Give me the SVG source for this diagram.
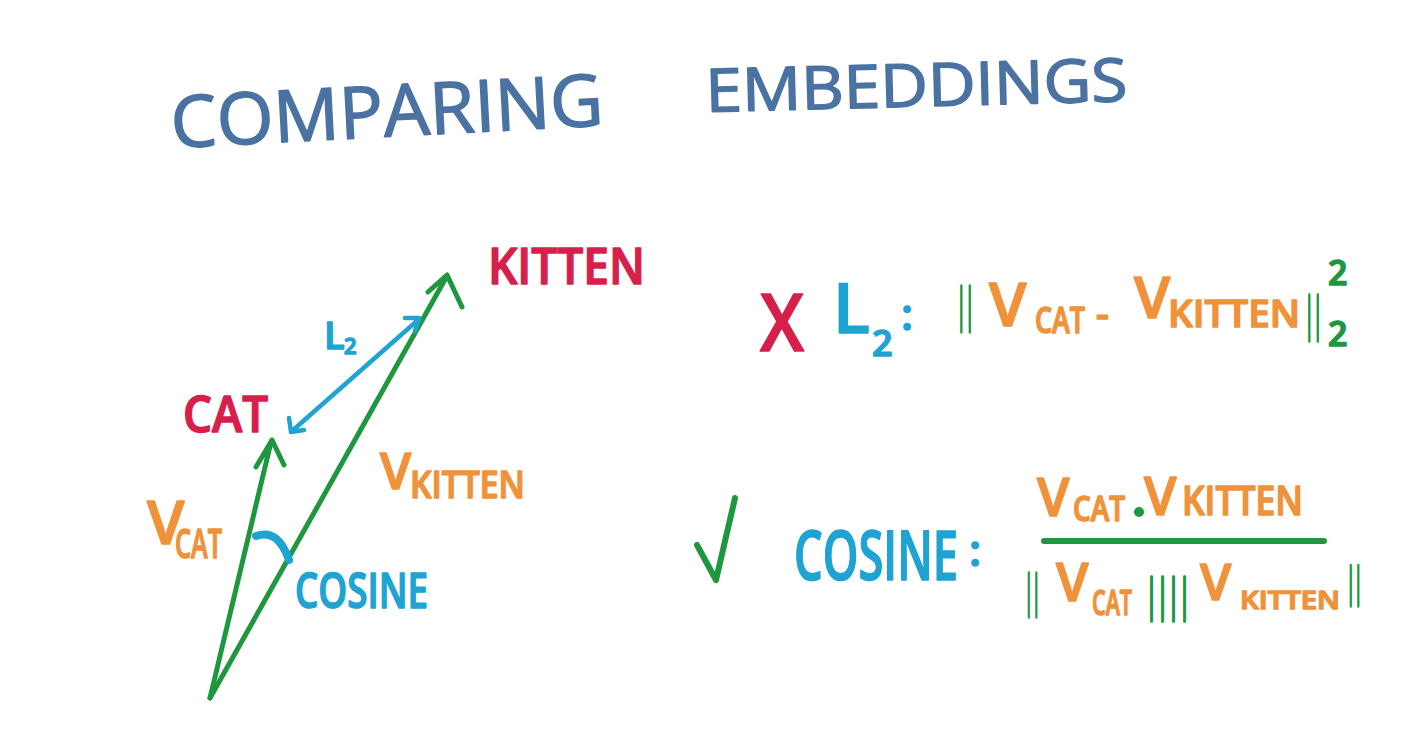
<svg xmlns="http://www.w3.org/2000/svg" width="1414" height="744" viewBox="0 0 1414 744">
<style>
text{font-family:"Open Sans","Liberation Sans",sans-serif;stroke-linejoin:round;stroke-linecap:round}
.title{fill:#4a72a2;stroke:#4a72a2;stroke-width:1.5}
.red{fill:#d71f4b;stroke:#d71f4b;stroke-width:1.5;font-weight:600}
.org{fill:#f0923a;stroke:#f0923a;stroke-width:1.5;font-weight:600}
.blu{fill:#1ea3d3;stroke:#1ea3d3;stroke-width:1.5;font-weight:600}
.grn{fill:#1f973f;stroke:#1f973f;stroke-width:1.5;font-weight:600}
.bar{fill:#1f973f;stroke:#1f973f;stroke-width:3.5;font-weight:400}
.gl{fill:none;stroke:#1f973f;stroke-width:5;stroke-linecap:round;stroke-linejoin:round}
.bl{fill:none;stroke:#1ea3d3;stroke-width:4.5;stroke-linecap:round;stroke-linejoin:round}
</style>
<rect width="1414" height="744" fill="#ffffff"/>
<g id="title">
<text class="title" x="172" y="148" font-size="72" textLength="433" lengthAdjust="spacingAndGlyphs" transform="rotate(-3 172 148)">COMPARING</text>
<text class="title" x="706" y="112" font-size="60" textLength="422" lengthAdjust="spacingAndGlyphs" transform="rotate(-1.5 706 112)">EMBEDDINGS</text>
</g>
<g id="connectors">
<path class="gl" d="M210 698 L447 276 M428 292 L447 275 L462 307"/>
<path class="gl" d="M210 698 L271 442 M256 467 L272 440 L284 465"/>
<path class="bl" d="M292 431 L418 320 M289 418 L291 432 L304 430 M405 318 L419 318 L415 331"/>
<path d="M256 536 Q278 528 289 560" fill="none" stroke="#1ea3d3" stroke-width="8" stroke-linecap="round"/>
</g>
<g id="kitten"><text class="red" x="488" y="284" font-size="50" textLength="157" lengthAdjust="spacingAndGlyphs">KITTEN</text></g>
<g id="cat"><text class="red" x="183" y="432" font-size="50" textLength="85" lengthAdjust="spacingAndGlyphs">CAT</text></g>
<g id="l2label"><text class="blu" x="324" y="349" font-size="38" font-weight="400">L</text><text class="blu" x="344" y="354" font-size="22">2</text></g>
<g id="vcat"><text class="org" x="147" y="544" font-size="60" font-weight="400">V</text><text class="org" x="175" y="558" font-size="40" textLength="47" lengthAdjust="spacingAndGlyphs">CAT</text></g>
<g id="vkitten"><text class="org" x="380" y="489" font-size="50" font-weight="400">V</text><text class="org" x="410" y="498" font-size="38" textLength="115" lengthAdjust="spacingAndGlyphs">KITTEN</text></g>
<g id="cosine"><text class="blu" x="295" y="608" font-size="48" textLength="133" lengthAdjust="spacingAndGlyphs">COSINE</text></g>
<g id="l2formula">
<text class="red" x="760" y="351" font-size="80" font-weight="400" textLength="44" lengthAdjust="spacingAndGlyphs">X</text>
<text class="blu" x="833" y="333" font-size="68" font-weight="400">L</text>
<text class="blu" x="872" y="356" font-size="36">2</text>
<text class="blu" x="901" y="330" font-size="44">:</text>
<text class="bar" x="957" y="321" font-size="46" textLength="17" lengthAdjust="spacingAndGlyphs">||</text>
<text class="org" x="989" y="326" font-size="60" font-weight="400">V</text>
<text class="org" x="1035" y="333" font-size="36" textLength="50" lengthAdjust="spacingAndGlyphs">CAT</text>
<text class="org" x="1096" y="328" font-size="40">-</text>
<text class="org" x="1134" y="318" font-size="58" font-weight="400">V</text>
<text class="org" x="1168" y="327" font-size="38" textLength="132" lengthAdjust="spacingAndGlyphs">KITTEN</text>
<text class="bar" x="1305" y="330" font-size="46" textLength="17" lengthAdjust="spacingAndGlyphs">||</text>
<text class="grn" x="1328" y="285" font-size="34">2</text>
<text class="grn" x="1328" y="346" font-size="34">2</text>
</g>
<g id="cosformula">
<path class="gl" d="M697 545 L716 580 L735 498" style="stroke-width:6"/>
<text class="blu" x="794" y="580" font-size="68" font-weight="400" textLength="164" lengthAdjust="spacingAndGlyphs">COSINE</text>
<text class="blu" x="969" y="566" font-size="44">:</text>
<text class="org" x="1037" y="516" font-size="52" font-weight="400">V</text>
<text class="org" x="1073" y="521" font-size="34" textLength="52" lengthAdjust="spacingAndGlyphs">CAT</text>
<circle cx="1139" cy="512" r="5" fill="#1f973f"/>
<text class="org" x="1144" y="515" font-size="52" font-weight="400">V</text>
<text class="org" x="1182" y="515" font-size="40" textLength="121" lengthAdjust="spacingAndGlyphs">KITTEN</text>
<path d="M1044 541 L1324 541" fill="none" stroke="#1f973f" stroke-width="6" stroke-linecap="round"/>
<text class="bar" x="1025" y="606" font-size="44" textLength="15" lengthAdjust="spacingAndGlyphs">||</text>
<text class="org" x="1056" y="601" font-size="52" font-weight="400">V</text>
<text class="org" x="1092" y="615" font-size="34" textLength="40" lengthAdjust="spacingAndGlyphs">CAT</text>
<text class="bar" x="1146" y="610" font-size="44" textLength="44" lengthAdjust="spacingAndGlyphs">||||</text>
<text class="org" x="1200" y="600" font-size="50" font-weight="400">V</text>
<text class="org" x="1240" y="609" font-size="26" textLength="100" lengthAdjust="spacingAndGlyphs">KITTEN</text>
<text class="bar" x="1347" y="596" font-size="40" textLength="15" lengthAdjust="spacingAndGlyphs">||</text>
</g>
</svg>
